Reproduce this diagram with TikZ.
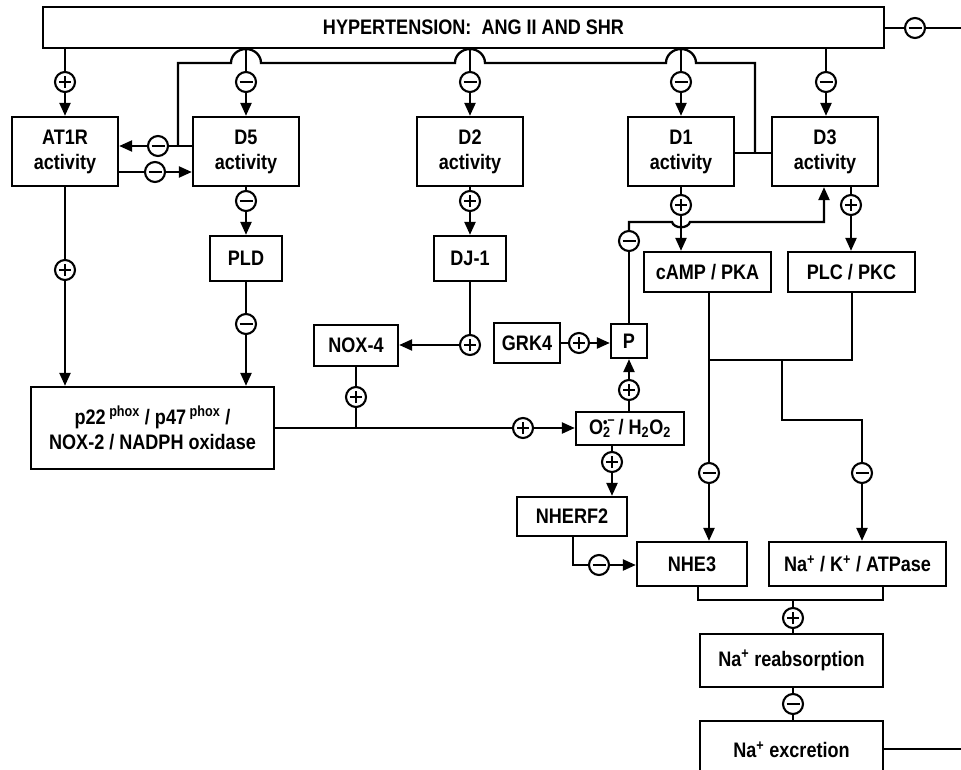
\documentclass[tikz,border=0pt]{standalone}
\usepackage{fontspec}
\setmainfont{Liberation Sans}[FakeStretch=0.86]
\usetikzlibrary{arrows.meta}
\tikzset{
 bx/.style={draw, line width=2.3pt, inner sep=0pt, align=center, font=\fontsize{21}{25}\selectfont\bfseries},
 ln/.style={line width=2.3pt},
 arr/.style={ln, -{Triangle[length=13pt,width=11pt]}},
 sgn/.style={circle, draw, line width=2.1pt, minimum size=20pt, inner sep=0pt, fill=white},
 pl/.style={sgn, path picture={\draw[line width=2.3pt] ([xshift=-6pt]path picture bounding box.center) -- ([xshift=6pt]path picture bounding box.center) ([yshift=-6pt]path picture bounding box.center) -- ([yshift=6pt]path picture bounding box.center);}},
 mi/.style={sgn, path picture={\draw[line width=2.6pt] ([xshift=-6.5pt]path picture bounding box.center) -- ([xshift=6.5pt]path picture bounding box.center);}},
}
\begin{document}
\begin{tikzpicture}[x=1pt,y=-1pt]
\useasboundingbox (0,0) rectangle (961,770);
% boxes
\node[bx, minimum width=841pt, minimum height=41pt] (top) at (463.5,27.5) {\hspace*{20pt}HYPERTENSION:\ \ ANG II AND SHR};
\node[bx, minimum width=106pt, minimum height=69pt] (at1r) at (65,151.5) {AT1R\\activity};
\node[bx, minimum width=106pt, minimum height=69pt] (d5) at (246,151.5) {D5\\activity};
\node[bx, minimum width=106pt, minimum height=69pt] (d2) at (470,151.5) {D2\\activity};
\node[bx, minimum width=106pt, minimum height=69pt] (d1) at (681,151.5) {D1\\activity};
\node[bx, minimum width=106pt, minimum height=69pt] (d3) at (825,151.5) {D3\\activity};
\node[bx, minimum width=72pt, minimum height=45pt] (pld) at (246,258.5) {PLD};
\node[bx, minimum width=72pt, minimum height=45pt] (dj1) at (470,258.5) {DJ-1};
\node[bx, minimum width=84pt, minimum height=41pt] (nox4) at (356,345.5) {NOX-4};
\node[bx, minimum width=243pt, minimum height=82pt] (nadph) at (152.5,428) {p22\,\textsuperscript{phox} / p47\,\textsuperscript{phox} /\\NOX-2 / NADPH oxidase};
\node[bx, minimum width=66pt, minimum height=40pt] (grk4) at (527,343) {GRK4};
\node[bx, minimum width=36pt, minimum height=34pt] (p) at (629,341) {P};
\node[bx, minimum width=108pt, minimum height=33pt] (o2) at (630,428.5) {O\rlap{\textsubscript{2}}\textsuperscript{\textbullet\raisebox{0.35ex}{–}}\,/ H\textsubscript{2}O\textsubscript{2}};
\node[bx, minimum width=127pt, minimum height=40pt] (camp) at (707.5,272) {cAMP / PKA};
\node[bx, minimum width=127pt, minimum height=40pt] (plc) at (851.5,272) {PLC / PKC};
\node[bx, minimum width=110pt, minimum height=39pt] (nherf2) at (572,516.5) {NHERF2};
\node[bx, minimum width=110pt, minimum height=44pt] (nhe3) at (692,564) {NHE3};
\node[bx, minimum width=177pt, minimum height=44pt] (nak) at (857.5,564) {Na\textsuperscript{+} / K\textsuperscript{+} / ATPase};
\node[bx, minimum width=183pt, minimum height=53pt] (reab) at (791.5,660.5) {Na\textsuperscript{+} reabsorption};
\node[bx, minimum width=183pt, minimum height=58pt] (excr) at (791.5,750) {Na\textsuperscript{+} excretion};
% signs
\node[mi] (stop) at (915,28) {};
\node[pl] (s1) at (65,82) {};
\node[mi] (s2) at (246,82) {};
\node[mi] (s3) at (470,82) {};
\node[mi] (s4) at (681,82) {};
\node[mi] (s5) at (826,82) {};
\node[mi] (s6) at (158,146) {};
\node[mi] (s7) at (155,172) {};
\node[pl] (s8) at (65,270) {};
\node[mi] (s9) at (246,201) {};
\node[pl] (s10) at (470,201) {};
\node[mi] (s11) at (246,324) {};
\node[pl] (s12) at (470,345) {};
\node[pl] (s13) at (356,397) {};
\node[pl] (s14) at (523,428) {};
\node[pl] (s15) at (629,390) {};
\node[pl] (s16) at (579,343) {};
\node[mi] (s17) at (629,241) {};
\node[pl] (s18) at (681,205) {};
\node[pl] (s19) at (851,205) {};
\node[pl] (s20) at (612,462) {};
\node[mi] (s21) at (599,565) {};
\node[mi] (s22) at (709,473) {};
\node[mi] (s23) at (862,473) {};
\node[pl] (s24) at (793,618) {};
\node[mi] (s25) at (793,704) {};
% coordinates
\coordinate (rend) at (961,28);
\coordinate (fbA) at (178,146);
\coordinate (fbB) at (178,63);
\coordinate (j1) at (755,153);
\coordinate (j1t) at (755,63);
\coordinate (j2) at (356,428);
\coordinate (pc) at (629,222);
\coordinate (pd) at (824,222);
\coordinate (k1) at (852,360);
\coordinate (k2) at (709,360);
\coordinate (k3) at (782,360);
\coordinate (k4) at (782,420);
\coordinate (k5) at (862,420);
\coordinate (n1) at (573,565);
\coordinate (m1) at (698,600);
\coordinate (m2) at (883,600);
\coordinate (m3) at (793,600);
\coordinate (xend) at (961,749);
% connectors from top
\draw[ln] (top.east |- stop) -- (stop) -- (rend);
\draw[ln] (top.south -| s1) -- (s1); \draw[arr] (s1) -- (s1 |- at1r.north);
\draw[ln] (top.south -| s2) -- (s2); \draw[arr] (s2) -- (s2 |- d5.north);
\draw[ln] (top.south -| s3) -- (s3); \draw[arr] (s3) -- (s3 |- d2.north);
\draw[ln] (top.south -| s4) -- (s4); \draw[arr] (s4) -- (s4 |- d1.north);
\draw[ln] (top.south -| s5) -- (s5); \draw[arr] (s5) -- (s5 |- d3.north);
% D5 <-> AT1R
\draw[ln] (d5.west |- s6) -- (s6); \draw[arr] (s6) -- (at1r.east |- s6);
\draw[ln] (at1r.east |- s7) -- (s7); \draw[arr] (s7) -- (d5.west |- s7);
% D1-D3 feedback with hops
\draw[ln] (d1.east |- j1) -- (d3.west |- j1);
\draw[ln] (j1) -- (j1t) -- (696,63)
  .. controls (696,55) and (689,49) .. (681,49) .. controls (673,49) and (666,55) .. (666,63)
  -- (485,63)
  .. controls (485,55) and (478,49) .. (470,49) .. controls (462,49) and (455,55) .. (455,63)
  -- (261,63)
  .. controls (261,55) and (254,49) .. (246,49) .. controls (238,49) and (231,55) .. (231,63)
  -- (fbB) -- (fbA);
% left column
\draw[ln] (at1r.south -| s8) -- (s8); \draw[arr] (s8) -- (s8 |- nadph.north);
\draw[ln] (d5.south -| s9) -- (s9); \draw[arr] (s9) -- (s9 |- pld.north);
\draw[ln] (pld.south -| s11) -- (s11); \draw[arr] (s11) -- (s11 |- nadph.north);
\draw[ln] (d2.south -| s10) -- (s10); \draw[arr] (s10) -- (s10 |- dj1.north);
\draw[ln] (dj1.south -| s12) -- (s12); \draw[arr] (s12) -- (nox4.east |- s12);
\draw[ln] (nox4.south -| s13) -- (s13) -- (j2);
\draw[ln] (nadph.east |- s14) -- (s14); \draw[arr] (s14) -- (o2.west |- s14);
% P and O2
\draw[ln] (o2.north -| s15) -- (s15); \draw[arr] (s15) -- (s15 |- p.south);
\draw[ln] (grk4.east |- s16) -- (s16); \draw[arr] (s16) -- (p.west |- s16);
\draw[ln] (p.north -| s17) -- (s17);
\draw[arr] (s17) -- (pc) -- (672,222) .. controls (674,229) and (688,229) .. (690,222) -- (pd) -- (pd |- d3.south);
% D1, D3 downstream
\draw[ln] (d1.south -| s18) -- (s18); \draw[arr] (s18) -- (s18 |- camp.north);
\draw[ln] (d3.south -| s19) -- (s19); \draw[arr] (s19) -- (s19 |- plc.north);
\draw[ln] (camp.south -| s22) -- (s22); \draw[arr] (s22) -- (s22 |- nhe3.north);
\draw[ln] (plc.south -| k1) -- (k1) -- (k2);
\draw[ln] (k3) -- (k4) -- (k5) -- (s23); \draw[arr] (s23) -- (s23 |- nak.north);
% NHERF2
\draw[ln] (o2.south -| s20) -- (s20); \draw[arr] (s20) -- (s20 |- nherf2.north);
\draw[ln] (nherf2.south -| n1) -- (n1) -- (s21); \draw[arr] (s21) -- (nhe3.west |- s21);
% bottom
\draw[ln] (nhe3.south -| m1) -- (m1) -- (m2) -- (nak.south -| m2);
\draw[ln] (m3) -- (s24) -- (s24 |- reab.north);
\draw[ln] (reab.south -| s25) -- (s25) -- (s25 |- excr.north);
\draw[ln] (excr.east |- xend) -- (xend);
\end{tikzpicture}
\end{document}
